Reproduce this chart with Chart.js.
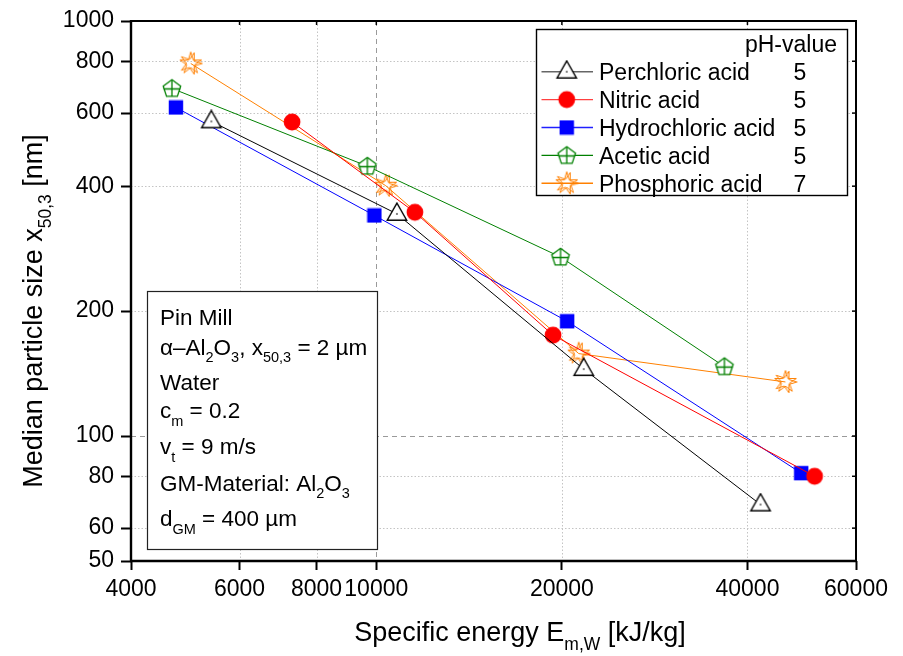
<!DOCTYPE html>
<html>
<head>
<meta charset="utf-8">
<script src="https://cdn.jsdelivr.net/npm/chart.js@4/dist/chart.umd.min.js"></script>
<style>
html,body{margin:0;padding:0;background:#fff;}
#wrap{width:903px;height:656px;position:relative;}
</style>
</head>
<body>
<div id="wrap"><canvas id="c" width="903" height="656"></canvas></div>
<script>
// ---- data ----
const xTicks = [4000, 6000, 8000, 10000, 20000, 40000, 60000];
const yTicks = [50, 60, 80, 100, 200, 400, 600, 800, 1000];

const seriesNames = ['Perchloric acid', 'Nitric acid', 'Hydrochloric acid', 'Acetic acid', 'Phosphoric acid'];
const phValues = ['5', '5', '5', '5', '7'];

const perchloricX = [5400, 10800, 21700, 42000];
const perchloricY = [573, 343, 145, 68.4];
const nitricX = [7300, 11550, 19350, 51400];
const nitricY = [571, 346, 175, 80];
const hydrochloricX = [4730, 9930, 20400, 48900];
const hydrochloricY = [619, 340, 189, 81.4];
const aceticX = [4660, 9670, 19900, 36700];
const aceticY = [688, 447, 270, 147];
const phosphoricX = [5000, 10360, 21300, 46100];
const phosphoricY = [790, 401, 158, 135];

const FONT = '"Liberation Sans", Arial, sans-serif';

// ---- marker images ----
function mk(w, h, fn) {
  const c = document.createElement('canvas');
  c.width = w; c.height = h;
  const g = c.getContext('2d');
  fn(g);
  return c;
}
const triImg = mk(24, 24, g => {
  g.beginPath();
  g.moveTo(12, 1.2); g.lineTo(2.3, 18.2); g.lineTo(21.7, 18.2); g.closePath();
  g.fillStyle = '#fff'; g.fill();
  g.lineWidth = 1.4; g.strokeStyle = '#000'; g.stroke();
  g.fillStyle = '#000'; g.fillRect(11.3, 11.3, 1.4, 1.4);
});
const circImg = mk(20, 20, g => {
  g.beginPath(); g.arc(10, 10, 8.4, 0, Math.PI * 2);
  g.fillStyle = '#ff0000'; g.fill();
});
const sqImg = mk(16, 16, g => {
  g.fillStyle = '#0000ff'; g.fillRect(0.8, 0.8, 14.4, 14.4);
});
const pentImg = mk(22, 22, g => {
  const cx = 11, cy = 11.5, r = 9.2;
  const pts = [];
  for (let i = 0; i < 5; i++) {
    const a = -Math.PI / 2 + i * 2 * Math.PI / 5;
    pts.push([cx + r * Math.cos(a), cy + r * Math.sin(a)]);
  }
  g.beginPath();
  pts.forEach((p, i) => i ? g.lineTo(p[0], p[1]) : g.moveTo(p[0], p[1]));
  g.closePath();
  g.fillStyle = '#fff'; g.fill();
  g.lineWidth = 1.3; g.strokeStyle = '#008000'; g.stroke();
  g.beginPath();
  g.moveTo(cx, cy - r); g.lineTo(cx, pts[2][1]);
  g.moveTo(pts[4][0] + 0.5, cy); g.lineTo(pts[1][0] - 0.5, cy);
  g.stroke();
});
const starImg = mk(26, 26, g => {
  const cx = 13, cy = 13;
  g.lineWidth = 1; g.strokeStyle = '#ff8000';
  for (let k = 0; k < 2; k++) {
    g.beginPath();
    for (let i = 0; i < 10; i++) {
      const a = -Math.PI / 2 + k * Math.PI / 5 * 0.5 + i * Math.PI / 5;
      const r = i % 2 ? 4.2 : 11.5;
      const px = cx + r * Math.cos(a), py = cy + r * Math.sin(a);
      i ? g.lineTo(px, py) : g.moveTo(px, py);
    }
    g.closePath(); g.stroke();
  }
});

const colors = ['#000000', '#ff0000', '#0000ff', '#008000', '#ff8000'];
const legendLineColors = ['#666666', '#ff4040', '#2020ff', '#008000', '#ff8000'];
const images = [triImg, circImg, sqImg, pentImg, starImg];
const xs = [perchloricX, nitricX, hydrochloricX, aceticX, phosphoricX];
const ys = [perchloricY, nitricY, hydrochloricY, aceticY, phosphoricY];

const datasets = seriesNames.map((n, i) => ({
  label: n,
  data: xs[i].map((x, j) => ({ x: x, y: ys[i][j] })),
  borderColor: colors[i],
  backgroundColor: colors[i],
  borderWidth: 1,
  pointStyle: images[i],
  pointRadius: 10,
  pointHoverRadius: 10,
  tension: 0,
  fill: false,
  clip: false
}));

// ---- rich text helper ----
function segWidth(ctx, segs, size, subSize) {
  let w = 0;
  segs.forEach(s => {
    ctx.font = (s.sub ? subSize : size) + 'px ' + FONT;
    w += ctx.measureText(s.t).width;
  });
  return w;
}
function drawRich(ctx, x, y, segs, size, subSize, subOff, align) {
  const w = segWidth(ctx, segs, size, subSize);
  let cx = align === 'center' ? x - w / 2 : (align === 'right' ? x - w : x);
  ctx.textAlign = 'left';
  ctx.textBaseline = 'alphabetic';
  segs.forEach(s => {
    ctx.font = (s.sub ? subSize : size) + 'px ' + FONT;
    ctx.fillText(s.t, cx, y + (s.sub ? subOff : 0));
    cx += ctx.measureText(s.t).width;
  });
}

const infoLines = [
  [{ t: 'Pin Mill' }],
  [{ t: 'α–Al' }, { t: '2', sub: true }, { t: 'O' }, { t: '3', sub: true }, { t: ', x' }, { t: '50,3', sub: true }, { t: ' = 2 µm' }],
  [{ t: 'Water' }],
  [{ t: 'c' }, { t: 'm', sub: true }, { t: ' = 0.2' }],
  [{ t: 'v' }, { t: 't', sub: true }, { t: ' = 9 m/s' }],
  [{ t: 'GM-Material: Al' }, { t: '2', sub: true }, { t: 'O' }, { t: '3', sub: true }],
  [{ t: 'd' }, { t: 'GM', sub: true }, { t: ' = 400 µm' }]
];
const infoBaselines = [324.5, 354.5, 390, 418, 454, 490.5, 526];

const deco = {
  id: 'deco',
  beforeDatasetsDraw(chart) {
    const { ctx, chartArea: a, scales: { x, y } } = chart;
    ctx.save();
    ctx.lineWidth = 1;
    // dotted grid
    ctx.strokeStyle = '#c4c4c4';
    ctx.setLineDash([1.5, 2]);
    [6000, 8000, 20000, 40000].forEach(v => {
      const px = Math.round(x.getPixelForValue(v)) + 0.5;
      ctx.beginPath(); ctx.moveTo(px, a.top); ctx.lineTo(px, a.bottom); ctx.stroke();
    });
    [60, 80, 200, 400, 600, 800].forEach(v => {
      const py = Math.round(y.getPixelForValue(v)) + 0.5;
      ctx.beginPath(); ctx.moveTo(a.left, py); ctx.lineTo(a.right, py); ctx.stroke();
    });
    // dashed reference lines
    ctx.strokeStyle = '#9a9a9a';
    ctx.setLineDash([5, 4]);
    {
      const px = Math.round(x.getPixelForValue(10000)) + 0.5;
      ctx.beginPath(); ctx.moveTo(px, a.top); ctx.lineTo(px, a.bottom); ctx.stroke();
      const py = Math.round(y.getPixelForValue(100)) + 0.5;
      ctx.beginPath(); ctx.moveTo(a.left, py); ctx.lineTo(a.right, py); ctx.stroke();
    }
    ctx.setLineDash([]);
    // info box
    ctx.fillStyle = '#fff';
    ctx.fillRect(147, 291, 231, 259);
    ctx.strokeStyle = '#222'; ctx.lineWidth = 1.2;
    ctx.strokeRect(147.5, 291.5, 230, 258);
    // legend box
    ctx.fillStyle = '#fff';
    ctx.fillRect(536, 29, 312, 167);
    ctx.strokeStyle = '#000'; ctx.lineWidth = 1.4;
    ctx.strokeRect(536.5, 29.5, 311, 166);
    ctx.restore();
  },
  afterDraw(chart) {
    const { ctx, chartArea: a, scales: { x, y } } = chart;
    ctx.save();
    // frame
    ctx.strokeStyle = '#000';
    ctx.lineWidth = 2;
    ctx.strokeRect(a.left, a.top, a.right - a.left, a.bottom - a.top);
    ctx.lineWidth = 2.4;
    ctx.beginPath(); ctx.moveTo(a.left, a.top - 1); ctx.lineTo(a.left, a.bottom + 1); ctx.stroke();
    ctx.beginPath(); ctx.moveTo(a.left - 1, a.bottom); ctx.lineTo(a.right + 1, a.bottom); ctx.stroke();
    // inward ticks on top and right
    ctx.lineWidth = 1.5;
    xTicks.forEach(v => {
      const px = x.getPixelForValue(v);
      ctx.beginPath(); ctx.moveTo(px, a.top); ctx.lineTo(px, a.top + 4); ctx.stroke();
    });
    yTicks.forEach(v => {
      const py = y.getPixelForValue(v);
      ctx.beginPath(); ctx.moveTo(a.right, py); ctx.lineTo(a.right - 4, py); ctx.stroke();
    });
    // legend content
    ctx.fillStyle = '#000';
    ctx.font = '23px ' + FONT;
    ctx.textAlign = 'right'; ctx.textBaseline = 'alphabetic';
    ctx.fillText('pH-value', 837, 51.5);
    const rows = [71.7, 99.6, 127.5, 155.4, 183.3];
    seriesNames.forEach((n, i) => {
      const cy = rows[i];
      ctx.strokeStyle = legendLineColors[i]; ctx.lineWidth = 1.4;
      ctx.beginPath(); ctx.moveTo(541.5, cy); ctx.lineTo(593, cy); ctx.stroke();
      const im = images[i];
      ctx.drawImage(im, 566.7 - im.width / 2, cy - im.height / 2);
      ctx.fillStyle = '#000';
      ctx.font = '23px ' + FONT;
      ctx.textAlign = 'left';
      ctx.fillText(n, 599, cy + 8.2);
      ctx.textAlign = 'center';
      ctx.fillText(phValues[i], 800, cy + 8.2);
    });
    // info text
    ctx.fillStyle = '#000';
    infoLines.forEach((segs, i) => drawRich(ctx, 160, infoBaselines[i], segs, 22.5, 14.5, 7.5, 'left'));
    // axis titles
    drawRich(ctx, 520, 641, [{ t: 'Specific energy E' }, { t: 'm,W', sub: true }, { t: ' [kJ/kg]' }], 27, 17.5, 9, 'center');
    ctx.save();
    ctx.translate(42, 311);
    ctx.rotate(-Math.PI / 2);
    drawRich(ctx, 0, 0, [{ t: 'Median particle size x' }, { t: '50,3', sub: true }, { t: ' [nm]' }], 27, 17.5, 9, 'center');
    ctx.restore();
    ctx.restore();
  }
};

new Chart(document.getElementById('c'), {
  type: 'line',
  data: { datasets: datasets },
  options: {
    responsive: false,
    animation: false,
    devicePixelRatio: 1,
    layout: { padding: { left: 0, right: 47, top: 21, bottom: 0 } },
    plugins: { legend: { display: false }, tooltip: { enabled: false }, title: { display: false } },
    scales: {
      x: {
        type: 'logarithmic',
        min: 4000, max: 60000,
        afterBuildTicks: s => { s.ticks = xTicks.map(v => ({ value: v })); },
        afterFit: s => { s.height = 95; },
        ticks: {
          autoSkip: false, maxRotation: 0, minRotation: 0,
          color: '#000', font: { family: FONT, size: 23 }, padding: 6,
          callback: v => String(v)
        },
        grid: { drawOnChartArea: false, drawTicks: true, tickLength: 9, tickColor: '#000', tickWidth: 2 },
        border: { display: false },
        title: { display: false }
      },
      y: {
        type: 'logarithmic',
        min: 50, max: 1000,
        afterBuildTicks: s => { s.ticks = yTicks.map(v => ({ value: v })); },
        afterFit: s => { s.width = 131; },
        ticks: {
          autoSkip: false,
          color: '#000', font: { family: FONT, size: 23 }, padding: 7,
          callback: v => String(v)
        },
        grid: { drawOnChartArea: false, drawTicks: true, tickLength: 10, tickColor: '#000', tickWidth: 2 },
        border: { display: false },
        title: { display: false }
      }
    }
  },
  plugins: [deco]
});
</script>
</body>
</html>
